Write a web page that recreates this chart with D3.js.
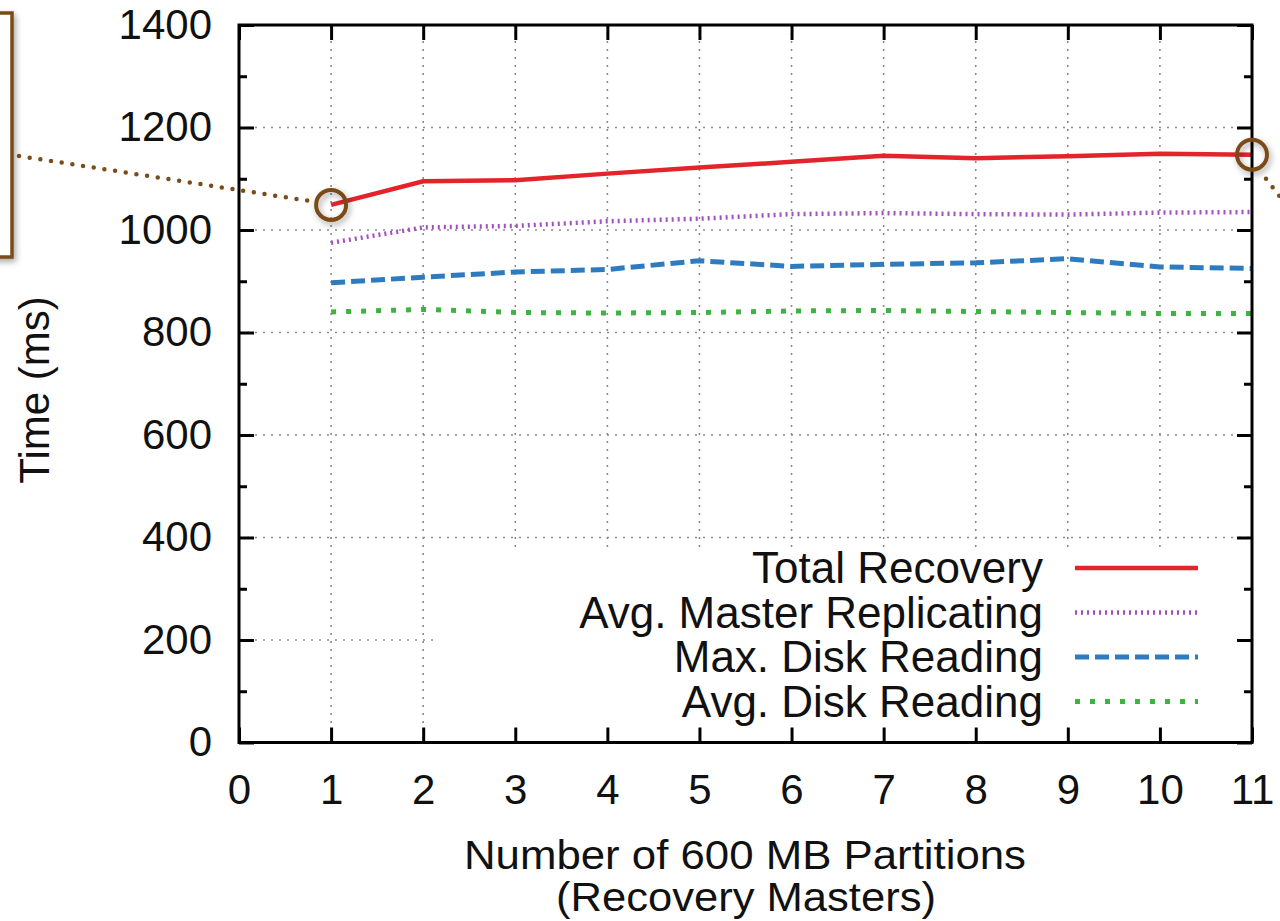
<!DOCTYPE html>
<html>
<head>
<meta charset="utf-8">
<script src="https://cdn.jsdelivr.net/npm/d3@7"></script>
<style>
  body { margin: 0; background: #fff; }
  svg { display: block; font-family: "Liberation Sans", Arial, sans-serif; }
</style>
</head>
<body>
<div class="chart"></div>
<script>
// partitions (recovery masters)
let partitions = [1, 2, 3, 4, 5, 6, 7, 8, 9, 10, 11];
let totalRecovery = [1049, 1095, 1097, 1110, 1122, 1133, 1145, 1140, 1144, 1149, 1147];
let avgMasterReplicating = [975, 1005, 1008, 1017, 1022, 1031, 1033, 1031, 1030, 1034, 1035];
let maxDiskReading = [897, 908, 918, 923, 940, 929, 933, 936, 944, 928, 925];
let avgDiskReading = [840, 845, 839, 838, 839, 842, 843, 841, 839, 837, 837];
let xTicks = [0, 1, 2, 3, 4, 5, 6, 7, 8, 9, 10, 11];
let yTicks = [0, 200, 400, 600, 800, 1000, 1200, 1400];
let yMinorTicks = [100, 300, 500, 700, 900, 1100, 1300];

let series = [
  { name: 'Total Recovery', values: totalRecovery, color: '#e3242b', width: 4.5, dash: null },
  { name: 'Avg. Master Replicating', values: avgMasterReplicating, color: '#a24fc0', width: 4.5, dash: '2,4' },
  { name: 'Max. Disk Reading', values: maxDiskReading, color: '#2f7bbf', width: 5, dash: '14,6' },
  { name: 'Avg. Disk Reading', values: avgDiskReading, color: '#3db441', width: 5, dash: '5,10' }
];

let W = 1280, H = 921;
let margin = { top: 25, right: 28, bottom: 178.5, left: 239 };
let width = W - margin.left - margin.right;
let height = H - margin.top - margin.bottom;
let fontSize = 44;
let tickFontSize = 42;

let svg = d3.select('.chart')
  .append('svg')
    .attr('width', W)
    .attr('height', H);

let defs = svg.append('defs');
let shadow = defs.append('filter').attr('id', 'shadow')
  .attr('x', '-50%').attr('y', '-50%').attr('width', '200%').attr('height', '200%');
shadow.append('feDropShadow')
  .attr('dx', 2).attr('dy', 3).attr('stdDeviation', 3)
  .attr('flood-color', '#000').attr('flood-opacity', 0.35);

let g = svg.append('g')
  .attr('transform', `translate(${margin.left}, ${margin.top})`);

let x = d3.scaleLinear().domain([0, 11]).range([0, width]);
let y = d3.scaleLinear().domain([0, 1400]).range([height, 0]);

// grid
let grid = g.append('g').attr('class', 'grid')
  .attr('stroke', '#8a8a8a').attr('stroke-width', 1.6).attr('stroke-dasharray', '2,6');
grid.selectAll('.gx').data(xTicks.slice(1, -1)).enter().append('line')
  .attr('x1', d => x(d)).attr('x2', d => x(d))
  .attr('y1', 0).attr('y2', height);
grid.selectAll('.gy').data(yTicks.slice(1, -1)).enter().append('line')
  .attr('x1', 0).attr('x2', width)
  .attr('y1', d => y(d)).attr('y2', d => y(d));

// data lines
let line = d3.line()
  .x((d, i) => x(partitions[i]))
  .y(d => y(d));

g.selectAll('.series').data(series).enter().append('path')
  .attr('class', 'series')
  .attr('d', d => line(d.values))
  .attr('fill', 'none')
  .attr('stroke', d => d.color)
  .attr('stroke-width', d => d.width)
  .attr('stroke-dasharray', d => d.dash);

// legend (opaque key)
let key = g.append('g').attr('class', 'legend');
key.append('rect')
  .attr('x', 198).attr('y', 522)
  .attr('width', width - 198).attr('height', height - 522)
  .attr('fill', '#fff');
let rowY = d => 543 + d * 44.5;
let keyRows = key.selectAll('.row').data(series).enter().append('g')
  .attr('transform', (d, i) => `translate(0, ${rowY(i)})`);
keyRows.append('text')
  .attr('x', 804).attr('y', 0).attr('dy', '0.35em')
  .attr('text-anchor', 'end')
  .attr('font-size', fontSize)
  .attr('fill', '#111')
  .text(d => d.name);
keyRows.append('line')
  .attr('x1', 836).attr('x2', 959)
  .attr('stroke', d => d.color)
  .attr('stroke-width', d => d.width)
  .attr('stroke-dasharray', d => d.dash);

// axes with inward ticks on all four sides
function styleAxis(sel) {
  sel.select('.domain').remove();
  sel.selectAll('.tick line').attr('stroke', '#000').attr('stroke-width', 3);
  sel.selectAll('.tick text').attr('font-size', tickFontSize).attr('fill', '#111')
    .attr('font-family', '"Liberation Sans", Arial, sans-serif');
}

g.append('g')
  .attr('transform', `translate(0, ${height})`)
  .call(d3.axisBottom(x).tickValues(xTicks).tickSize(-15).tickPadding(32).tickFormat(d3.format('d')))
  .call(styleAxis);
g.append('g')
  .call(d3.axisTop(x).tickValues(xTicks).tickSize(-15).tickFormat(''))
  .call(styleAxis);
g.append('g')
  .call(d3.axisLeft(y).tickValues(yTicks).tickSize(-15).tickPadding(27).tickFormat(d3.format('d')))
  .call(styleAxis);
g.append('g')
  .call(d3.axisLeft(y).tickValues(yMinorTicks).tickSize(-8).tickFormat(''))
  .call(styleAxis);
g.append('g')
  .attr('transform', `translate(${width}, 0)`)
  .call(d3.axisRight(y).tickValues(yTicks).tickSize(-15).tickFormat(''))
  .call(styleAxis);
g.append('g')
  .attr('transform', `translate(${width}, 0)`)
  .call(d3.axisRight(y).tickValues(yMinorTicks).tickSize(-8).tickFormat(''))
  .call(styleAxis);

// frame
g.append('rect')
  .attr('width', width).attr('height', height)
  .attr('fill', 'none').attr('stroke', '#000').attr('stroke-width', 3);

// axis titles
svg.append('text')
  .attr('transform', 'translate(49, 390) rotate(-90)')
  .attr('text-anchor', 'middle')
  .attr('font-size', tickFontSize).attr('fill', '#111')
  .text('Time (ms)');
svg.append('text')
  .attr('x', 745).attr('y', 869)
  .attr('text-anchor', 'middle')
  .attr('font-size', 40).attr('fill', '#111')
  .attr('textLength', 562).attr('lengthAdjust', 'spacingAndGlyphs')
  .text('Number of 600 MB Partitions');
svg.append('text')
  .attr('x', 746).attr('y', 911)
  .attr('text-anchor', 'middle')
  .attr('font-size', 40).attr('fill', '#111')
  .attr('textLength', 380).attr('lengthAdjust', 'spacingAndGlyphs')
  .text('(Recovery Masters)');

// callout annotations
let brown = '#7a4c17';
let callout = svg.append('g').attr('class', 'callout');
callout.append('rect')
  .attr('x', -20).attr('y', 13).attr('width', 32).attr('height', 244)
  .attr('fill', '#fff').attr('stroke', brown).attr('stroke-width', 3.5)
  .attr('filter', 'url(#shadow)');
let cx1 = margin.left + x(partitions[0]), cy1 = margin.top + y(totalRecovery[0]);
let cx2 = margin.left + x(partitions[10]), cy2 = margin.top + y(totalRecovery[10]);
callout.append('line')
  .attr('x1', 19).attr('y1', 156).attr('x2', cx1 - 22).attr('y2', cy1 - 4)
  .attr('stroke', brown).attr('stroke-width', 4.5)
  .attr('stroke-linecap', 'round').attr('stroke-dasharray', '0,10.8');
callout.append('line')
  .attr('x1', cx2 + 14).attr('y1', cy2 + 24).attr('x2', 1290).attr('y2', cy2 + 55)
  .attr('stroke', brown).attr('stroke-width', 4.5)
  .attr('stroke-linecap', 'round').attr('stroke-dasharray', '0,10.8');
callout.selectAll('circle').data([[cx1, cy1], [cx2, cy2]]).enter().append('circle')
  .attr('cx', d => d[0]).attr('cy', d => d[1]).attr('r', 15)
  .attr('fill', 'none').attr('stroke', brown).attr('stroke-width', 4)
  .attr('filter', 'url(#shadow)');
</script>
</body>
</html>
